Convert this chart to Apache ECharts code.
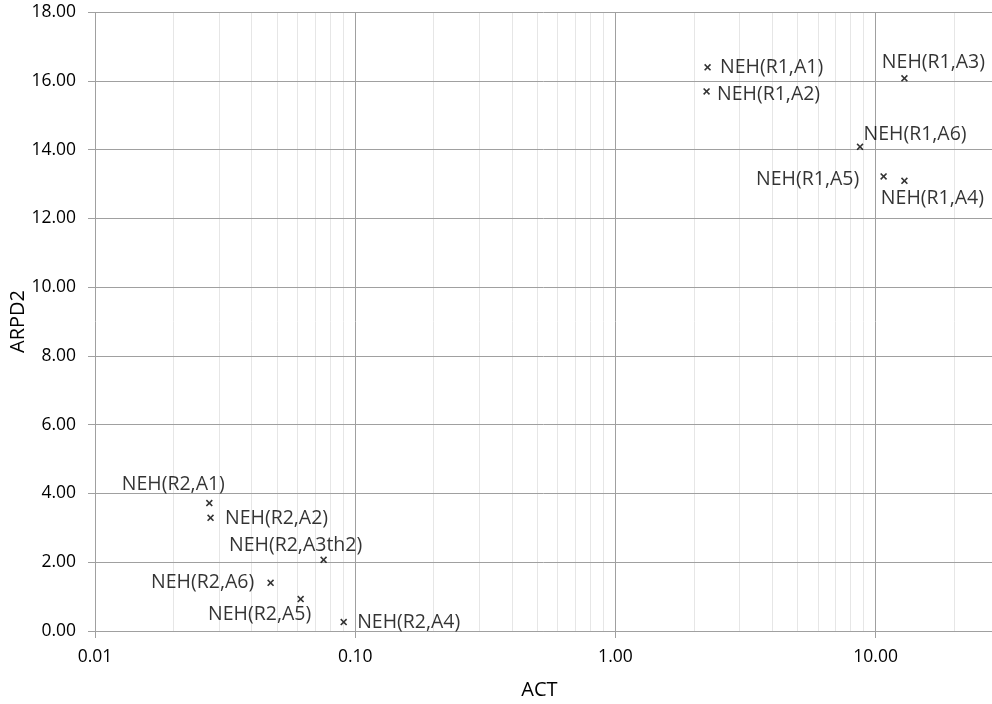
<!DOCTYPE html>
<html><head><meta charset="utf-8">
<script src="https://cdn.jsdelivr.net/npm/echarts@6/dist/echarts.min.js"></script>
<style>html,body{margin:0;padding:0;background:#fff}#c{width:992px;height:704px}</style>
</head><body><div id="c"></div>
<script>
// ---- data ----
const names = ["NEH(R1,A1)","NEH(R1,A2)","NEH(R1,A3)","NEH(R1,A6)","NEH(R1,A5)","NEH(R1,A4)",
               "NEH(R2,A1)","NEH(R2,A2)","NEH(R2,A3th2)","NEH(R2,A6)","NEH(R2,A5)","NEH(R2,A4)"];
const actValues  = [2.26, 2.24, 12.9, 8.71, 10.73, 12.9, 0.0275, 0.0278, 0.0756, 0.0473, 0.0617, 0.0903];
const arpdValues = [16.39, 15.69, 16.07, 14.08, 13.22, 13.09, 3.72, 3.29, 2.07, 1.40, 0.93, 0.26];
const minorGridValues = [0.02,0.03,0.04,0.05,0.06,0.07,0.08,0.09,
                         0.2,0.3,0.4,0.5,0.6,0.7,0.8,0.9,
                         2,3,4,5,6,7,8,9,20];
const xAxisTitle = "ACT";
const yAxisTitle = "ARPD2";

// ---- label placement (style: px offsets of label centre from marker centre) ----
const labelOffsets = {
  "NEH(R1,A1)":[64,0], "NEH(R1,A2)":[62,3], "NEH(R1,A3)":[29,-16], "NEH(R1,A6)":[55,-12],
  "NEH(R1,A5)":[-76,3], "NEH(R1,A4)":[28,18], "NEH(R2,A1)":[-36,-19], "NEH(R2,A2)":[66,1],
  "NEH(R2,A3th2)":[-28,-14], "NEH(R2,A6)":[-68,0], "NEH(R2,A5)":[-41,15], "NEH(R2,A4)":[65,0]
};

const FONT = "Open Sans";
const crossPath = 'path://M0,1.6L1.6,0L5,3.4L8.4,0L10,1.6L6.6,5L10,8.4L8.4,10L5,6.6L1.6,10L0,8.4L3.4,5Z';

const points = names.map((n,i)=>({ name:n, value:[actValues[i], arpdValues[i]] }));

const chart = echarts.init(document.getElementById('c'), null, {renderer:'canvas'});
chart.setOption({
  animation:false,
  backgroundColor:'#fff',
  grid:{left:95, right:0, top:12, bottom:73, containLabel:false, outerBoundsMode:'none'},
  xAxis:{
    type:'log', logBase:10, min:0.01, max:28,
    name:xAxisTitle, nameLocation:'middle', nameGap:49, nameMoveOverlap:false,
    nameTextStyle:{fontFamily:FONT, fontSize:20, color:'#000', padding:[0,8,0,0]},
    axisLine:{show:true, lineStyle:{color:'#a0a0a0', width:1}},
    axisTick:{show:true, length:7, lineStyle:{color:'#a0a0a0'}},
    axisLabel:{fontFamily:FONT, fontSize:17.5, color:'#000', margin:17, showMaxLabel:false,
      formatter:v=>Number(v).toFixed(2)},
    splitLine:{show:true, lineStyle:{color:'#a0a0a0', width:1}},
    minorTick:{show:false}, minorSplitLine:{show:false}
  },
  yAxis:{
    type:'value', min:0, max:18, interval:2,
    name:yAxisTitle, nameLocation:'middle', nameGap:67, nameMoveOverlap:false,
    nameTextStyle:{fontFamily:FONT, fontSize:20, color:'#000'},
    axisLine:{show:false},
    axisTick:{show:true, length:7, lineStyle:{color:'#a0a0a0'}},
    axisLabel:{fontFamily:FONT, fontSize:17.5, color:'#000', margin:19,
      formatter:v=>Number(v).toFixed(2)},
    splitLine:{show:true, lineStyle:{color:'#a0a0a0', width:1}}
  },
  series:[
    {
      type:'scatter', data:[], z:-1, silent:true,
      markLine:{
        silent:true, symbol:['none','none'], label:{show:false}, z:-1,
        lineStyle:{color:'#e6e6e6', type:'solid', width:1},
        emphasis:{disabled:true},
        data:minorGridValues.map(v=>({xAxis:v}))
      }
    },
    {
      type:'scatter', z:10, symbol:crossPath, symbolSize:7,
      itemStyle:{color:'#000'},
      label:{show:true, position:'inside', align:'center', verticalAlign:'middle',
        formatter:p=>p.name, fontFamily:FONT, fontSize:19.5, color:'#000'},
      labelLayout:function(p){
        const off = labelOffsets[names[p.dataIndex]] || [0,0];
        const cx = p.rect.x + p.rect.width/2, cy = p.rect.y + p.rect.height/2;
        return {x: cx + off[0], y: cy + off[1], align:'center', verticalAlign:'middle', hideOverlap:false};
      },
      data:points
    }
  ]
});
</script></body></html>
